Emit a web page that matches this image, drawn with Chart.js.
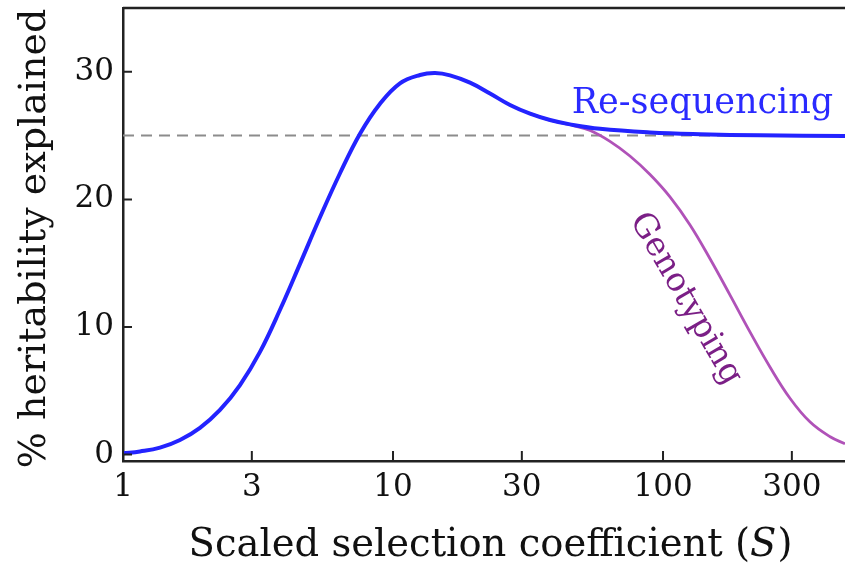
<!DOCTYPE html>
<html>
<head>
<meta charset="utf-8">
<script src="https://cdn.jsdelivr.net/npm/chart.js@4.4.0/dist/chart.umd.min.js"></script>
<style>
  html, body { margin: 0; padding: 0; background: #fff; }
  canvas { display: block; }
</style>
</head>
<body>
<canvas id="chart" width="845" height="567"></canvas>
<script>
// valores (S en escala log)
const reseqS = [1, 1.156, 1.371, 1.626, 1.928, 2.287, 2.712, 3.216, 3.815, 4.524, 5.365, 6.363, 7.547, 8.95, 10.61, 12.59, 14.31, 16.26, 19.28, 22.87, 27.12, 32.17, 38.15, 45.25, 58.43, 89.5, 137.1, 228.6, 472];
const reseqH = [0.1, 0.25, 0.55, 1.15, 2.1, 3.5, 5.45, 8.05, 11.35, 14.95, 18.6, 22.05, 25.15, 27.5, 29.1, 29.75, 29.9, 29.72, 29.15, 28.3, 27.4, 26.72, 26.22, 25.88, 25.53, 25.25, 25.11, 25.02, 24.96];
const genoS = [32.17, 38.15, 45.25, 53.7, 63.6, 75.4, 89.5, 106.1, 125.9, 149.3, 177.1, 210.1, 249.2, 295.6, 350.6, 415.8, 472];
const genoH = [26.72, 26.22, 25.85, 25.4, 24.55, 23.4, 21.95, 20.2, 18.0, 15.35, 12.5, 9.6, 6.85, 4.4, 2.55, 1.4, 0.85];
const refLine = 25;
const xTicks = [1, 3, 10, 30, 100, 300];
const yTicks = [0, 10, 20, 30];

const serif = '"DejaVu Serif", "Liberation Serif", serif';
const toPts = (xs, ys) => xs.map((v, i) => ({ x: v, y: ys[i] }));

// marcas hacia dentro, marco superior, etiquetas y titulos
const extras = {
  id: 'extras',
  afterDraw(chart) {
    const { ctx, chartArea: a, scales: { x, y } } = chart;
    ctx.save();
    ctx.strokeStyle = '#222';
    ctx.lineWidth = 2.5;
    ctx.beginPath();
    ctx.moveTo(a.left, a.top);
    ctx.lineTo(a.right, a.top);
    ctx.stroke();

    ctx.lineWidth = 2;
    ctx.beginPath();
    xTicks.forEach(v => {
      const px = x.getPixelForValue(v);
      ctx.moveTo(px, a.bottom);
      ctx.lineTo(px, a.bottom - 10);
    });
    yTicks.forEach(v => {
      const py = y.getPixelForValue(v);
      ctx.moveTo(a.left, py);
      ctx.lineTo(a.left + 9, py);
    });
    ctx.stroke();

    // etiquetas de las curvas
    ctx.fillStyle = '#2a2aff';
    ctx.font = '35px ' + serif;
    ctx.textAlign = 'center';
    ctx.textBaseline = 'alphabetic';
    ctx.fillText('Re-sequencing', x.getPixelForValue(140), y.getPixelForValue(26.8));

    ctx.save();
    ctx.translate(x.getPixelForValue(121), y.getPixelForValue(12.2));
    ctx.rotate(60 * Math.PI / 180);
    ctx.fillStyle = '#7b1f86';
    ctx.font = '33px ' + serif;
    ctx.textBaseline = 'middle';
    ctx.fillText('Genotyping', 0, 0);
    ctx.restore();

    // titulo eje x con S en cursiva
    ctx.fillStyle = '#111';
    ctx.textAlign = 'left';
    const part1 = 'Scaled selection coefficient (';
    const fs = 38.5;
    ctx.font = fs + 'px ' + serif;
    const w1 = ctx.measureText(part1).width;
    const w3 = ctx.measureText(')').width;
    ctx.font = 'italic ' + fs + 'px ' + serif;
    const w2 = ctx.measureText('S').width;
    let tx = (a.left + a.right) / 2 + 6 - (w1 + w2 + w3) / 2;
    const ty = 556;
    ctx.font = fs + 'px ' + serif;
    ctx.fillText(part1, tx, ty);
    ctx.font = 'italic ' + fs + 'px ' + serif;
    ctx.fillText('S', tx + w1, ty);
    ctx.font = fs + 'px ' + serif;
    ctx.fillText(')', tx + w1 + w2 + 1, ty);

    // titulo eje y
    ctx.save();
    ctx.translate(35, (a.top + a.bottom) / 2 + 4);
    ctx.rotate(-Math.PI / 2);
    ctx.textAlign = 'center';
    ctx.textBaseline = 'middle';
    ctx.font = '38px ' + serif;
    ctx.fillText('% heritability explained', 0, 0);
    ctx.restore();

    ctx.restore();
  }
};

new Chart(document.getElementById('chart'), {
  type: 'line',
  data: {
    datasets: [
      {
        label: 'Re-sequencing',
        data: toPts(reseqS, reseqH),
        borderColor: '#2323ff',
        borderWidth: 4,
        pointRadius: 0,
        tension: 0.4,
        order: 0
      },
      {
        label: 'Genotyping',
        data: toPts(genoS, genoH),
        borderColor: '#b052b8',
        borderWidth: 2.8,
        pointRadius: 0,
        tension: 0.4,
        order: 1
      },
      {
        label: 'ref',
        data: [{ x: 1, y: refLine }, { x: 472, y: refLine }],
        borderColor: '#8c8c8c',
        borderWidth: 2,
        borderDash: [11, 7],
        pointRadius: 0,
        order: 2
      }
    ]
  },
  options: {
    responsive: false,
    animation: false,
    devicePixelRatio: 1,
    layout: { padding: { top: 8, right: 0, left: 0, bottom: 0 } },
    plugins: { legend: { display: false }, tooltip: { enabled: false } },
    scales: {
      x: {
        type: 'logarithmic',
        min: 1,
        max: 472,
        grid: { display: false, drawTicks: false },
        border: { display: true, color: '#222', width: 2.5 },
        afterBuildTicks: s => { s.ticks = xTicks.map(v => ({ value: v })); },
        afterFit: s => { s.height = 106; s.paddingLeft = 0; s.paddingRight = 0; },
        ticks: {
          autoSkip: false,
          maxRotation: 0,
          padding: 8,
          color: '#111',
          font: { family: serif, size: 31 },
          callback: v => String(v)
        }
      },
      y: {
        type: 'linear',
        min: -0.5,
        max: 35,
        grid: { display: false, drawTicks: false },
        border: { display: true, color: '#222', width: 2.5 },
        afterBuildTicks: s => { s.ticks = yTicks.map(v => ({ value: v })); },
        afterFit: s => { s.width = 123; s.paddingTop = 0; s.paddingBottom = 0; },
        ticks: {
          padding: 9,
          color: '#111',
          font: { family: serif, size: 31 },
          callback: v => String(v)
        }
      }
    }
  },
  plugins: [extras]
});
</script>
</body>
</html>
